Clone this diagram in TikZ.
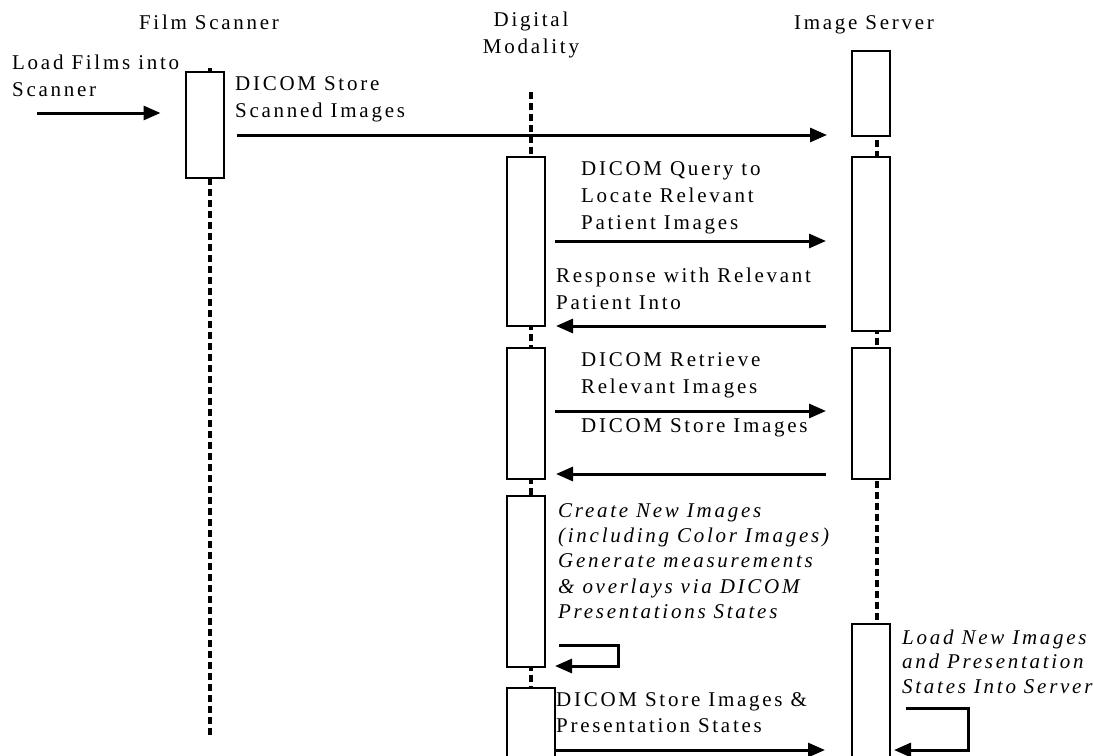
\documentclass[tikz,border=0pt]{standalone}
\usepackage{fontspec}
\setmainfont{Liberation Serif}[LetterSpace=13]
\usetikzlibrary{arrows.meta,positioning}

\begin{document}
\begin{tikzpicture}[
			x=1pt, y=-1pt,
			every node/.style={font=\fontsize{21}{27}\selectfont, inner sep=0pt},
			actbox/.style={rectangle, draw, fill=white, line width=2pt, minimum width=38pt},
			msgtext/.style={align=left, anchor=north west},
			life/.style={dash pattern=on 7pt off 4pt, line width=3.5pt},
			msg/.style={line width=3pt, -{Triangle[length=17pt,width=14pt]}}
			]
			\useasboundingbox (0,0) rectangle (1094,755);
			
			% 标题
			\node (tf) [anchor=base] at (209,29) {Film Scanner};
			\node (tm) [align=center, anchor=north] at (531,12) {Digital\\Modality};
			\node (ts) [anchor=base] at (864,29) {Image Server};
			
			% 生命线
			\coordinate (fl0) at (210,68);
			\coordinate (fl1) at (210,735);
			\coordinate (ml0) at (531,92);
			\coordinate (ml1) at (531,755);
			\coordinate (sl0) at (877,52);
			\coordinate (sl1) at (877,755);
			\draw [life] (fl0) -- (fl1);
			\draw [life] (ml0) -- (ml1);
			\draw [life] (sl0) -- (sl1);
			
			% 激活框
			\node (fb) [actbox, anchor=north, minimum height=106pt] at (204.5,71) {};
			\node (mb1) [actbox, anchor=north, minimum height=169pt] at (526,156) {};
			\node (mb2) [actbox, anchor=north, minimum height=131pt] at (526,347) {};
			\node (mb3) [actbox, anchor=north, minimum height=171pt] at (526,495) {};
			\node (mb4) [actbox, anchor=north, minimum height=70pt, minimum width=48pt] at (531,687) {};
			\node (sb1) [actbox, anchor=north, minimum height=85pt] at (871,50) {};
			\node (sb2) [actbox, anchor=north, minimum height=174pt] at (871,156) {};
			\node (sb3) [actbox, anchor=north, minimum height=131pt] at (871,347) {};
			\node (sb4) [actbox, anchor=north, minimum height=135pt] at (871,623) {};
			
			% 文字
			\node (tload) [msgtext] at (12,54.5) {Load Films into\\Scanner};
			\node (tscan) [msgtext] at (235,76.5) {DICOM Store\\Scanned Images};
			\node (tquery) [msgtext] at (581,161) {DICOM Query to\\Locate Relevant\\Patient Images};
			\node (tresp) [msgtext] at (556,268) {Response with Relevant\\Patient Into};
			\node (tretr) [msgtext] at (581,352.5) {DICOM Retrieve\\Relevant Images};
			\node (tstore) [msgtext] at (581,418.5) {DICOM Store Images};
			\node (tcreate) [msgtext, font=\fontsize{21}{25.3}\selectfont\itshape] at (558,503)
				{Create New Images\\(including Color Images)\\Generate measurements\\\& overlays via DICOM\\Presentations States};
			\node (tstps) [msgtext, font=\fontsize{21}{26}\selectfont] at (556,692.5) {DICOM Store Images \&\\Presentation States};
			\node (tloadnew) [msgtext, font=\fontsize{21}{24.5}\selectfont\itshape] at (902,629.5)
				{Load New Images\\and Presentation\\States Into Server};
			
			% 消息箭头
			\coordinate (in) at (37,113);
			\draw [msg, shorten >=24pt] (in) -- (fb.west |- in);
			\draw [msg, shorten <=12pt, shorten >=24pt] (fb.east |- 0,135) -- (sb1.west |- 0,135);
			\draw [msg, shorten <=9pt, shorten >=25pt] (mb1.east |- 0,241) -- (sb2.west |- 0,241);
			\draw [msg, shorten <=25pt, shorten >=10pt] (sb2.west |- 0,326) -- (mb1.east |- 0,326);
			\draw [msg, shorten <=9pt, shorten >=25pt] (mb2.east |- 0,411) -- (sb3.west |- 0,411);
			\draw [msg, shorten <=25pt, shorten >=10pt] (sb3.west |- 0,474) -- (mb2.east |- 0,474);
			\draw [msg, shorten <=13pt, shorten >=9pt] (mb3.east |- 0,645) -- (618,645) -- (618,666) -- (mb3.east |- 0,666);
			\draw [msg, shorten >=26pt] (mb4.east |- 0,750) -- (sb4.west |- 0,750);
			\draw [msg, shorten <=15pt, shorten >=3pt] (sb4.east |- 0,708) -- (968,708) -- (968,750) -- (sb4.east |- 0,750);
			
		\end{tikzpicture}
\end{document}
